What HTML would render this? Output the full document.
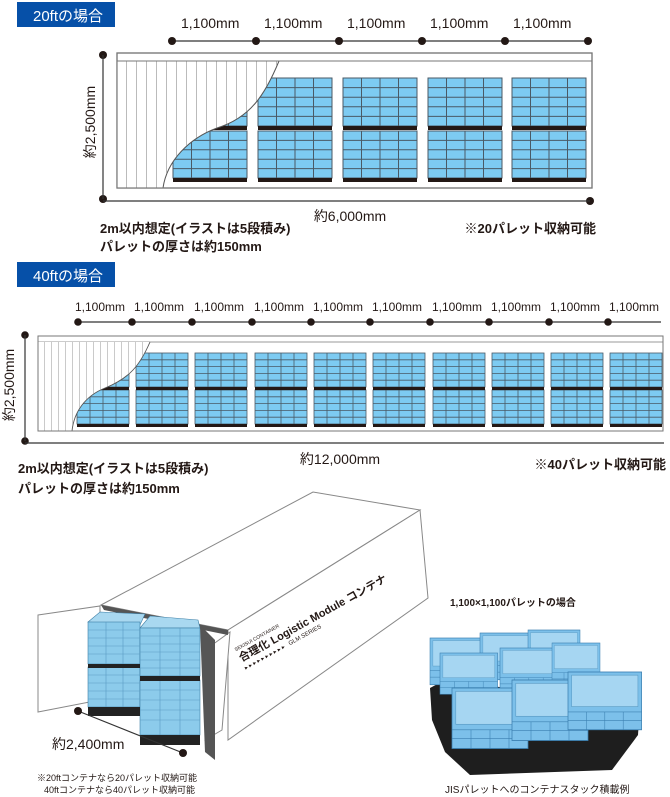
<!DOCTYPE html>
<html><head><meta charset="utf-8"><style>
html,body{margin:0;padding:0;background:#fff}
svg{display:block}
text{font-family:"Liberation Sans","Noto Sans CJK JP",sans-serif;fill:#231815}
</style></head><body>
<svg width="670" height="797" viewBox="0 0 670 797" xmlns="http://www.w3.org/2000/svg">
<defs>
<pattern id="h20" patternUnits="userSpaceOnUse" x="117" y="0" width="10" height="10"><rect width="10" height="10" fill="#fff"/><line x1="10" y1="0" x2="10" y2="10" stroke="#555" stroke-width="0.8"/></pattern>
<pattern id="h40" patternUnits="userSpaceOnUse" x="38" y="0" width="7" height="10"><rect width="7" height="10" fill="#fff"/><line x1="7" y1="0" x2="7" y2="10" stroke="#666" stroke-width="0.7"/></pattern>
<g id="u20">
<rect x="0" y="0" width="74" height="48" fill="#7dcbf2" stroke="#4a5a66" stroke-width="1"/>
<rect x="0" y="53" width="74" height="47" fill="#7dcbf2" stroke="#4a5a66" stroke-width="1"/>
<path d="M18.5,0V48M37,0V48M55.5,0V48M18.5,53V100M37,53V100M55.5,53V100M0,9.6H74M0,19.2H74M0,28.8H74M0,38.4H74M0,62.4H74M0,71.8H74M0,81.2H74M0,90.6H74" stroke="#4a5a66" stroke-width="1" fill="none"/>
<rect x="0" y="48" width="74" height="4" fill="#231815"/>
<rect x="0" y="100" width="74" height="4" fill="#231815"/>
</g>
<g id="u40">
<rect x="0" y="0" width="52" height="34" fill="#7dcbf2" stroke="#4a5a66" stroke-width="0.8"/>
<rect x="0" y="37" width="52" height="34" fill="#7dcbf2" stroke="#4a5a66" stroke-width="0.8"/>
<path d="M13,0V34M26,0V34M39,0V34M13,37V71M26,37V71M39,37V71M0,6.8H52M0,13.6H52M0,20.4H52M0,27.2H52M0,43.8H52M0,50.6H52M0,57.4H52M0,64.2H52" stroke="#4a5a66" stroke-width="0.8" fill="none"/>
<rect x="0" y="34" width="52" height="3" fill="#231815"/>
<rect x="0" y="71" width="52" height="3" fill="#231815"/>
</g>
<g id="box">
<rect x="0" y="0" width="80" height="55" fill="#7cc0ea" stroke="#3b7fb0" stroke-width="0.8"/>
<rect x="4" y="3" width="72" height="30" fill="#a6d6f2" stroke="#5a9bc4" stroke-width="0.6"/>
<path d="M0,38H80M0,46H80M20,38V55M40,38V55M60,38V55" stroke="#3b7fb0" stroke-width="0.6"/>
</g>
</defs>

<!-- 20ft -->
<rect x="17" y="2" width="98" height="25" fill="#0650a8"/>
<text x="33" y="21" font-size="15" style="fill:#fff">20ftの場合</text>
<g font-size="14">
<text x="181" y="28">1,100mm</text><text x="264" y="28">1,100mm</text><text x="347" y="28">1,100mm</text><text x="430" y="28">1,100mm</text><text x="513" y="28">1,100mm</text>
</g>
<line x1="172" y1="41" x2="588" y2="41" stroke="#333" stroke-width="1.2"/>
<g fill="#231815"><circle cx="172" cy="41" r="4"/><circle cx="256" cy="41" r="4"/><circle cx="339" cy="41" r="4"/><circle cx="422" cy="41" r="4"/><circle cx="505" cy="41" r="4"/><circle cx="588" cy="41" r="4"/>
<circle cx="103" cy="55" r="4"/><circle cx="103" cy="199" r="4"/><circle cx="590" cy="201" r="4"/></g>
<line x1="103" y1="55" x2="103" y2="199" stroke="#333" stroke-width="1.2"/>
<line x1="103" y1="201" x2="590" y2="201" stroke="#333" stroke-width="1.2"/>
<rect x="117" y="53" width="475" height="135" fill="#fff" stroke="#777" stroke-width="1.2"/>
<line x1="117" y1="61" x2="592" y2="61" stroke="#777" stroke-width="1"/>
<use href="#u20" x="173" y="78"/><use href="#u20" x="258" y="78"/><use href="#u20" x="343" y="78"/><use href="#u20" x="428" y="78"/><use href="#u20" x="512" y="78"/>
<path d="M117,61 L279,61 C265,95 250,118 217,128 C190,138 167,160 163,188 L117,188 Z" fill="url(#h20)"/>
<path d="M279,61 C265,95 250,118 217,128 C190,138 167,160 163,188" fill="none" stroke="#555" stroke-width="1"/>
<rect x="117" y="53" width="475" height="135" fill="none" stroke="#777" stroke-width="1.2"/>
<line x1="117" y1="61" x2="279" y2="61" stroke="#777" stroke-width="1"/>
<text x="95" y="122" font-size="14" transform="rotate(-90 95 122)" text-anchor="middle">約2,500mm</text>
<text x="350" y="221" font-size="14" text-anchor="middle">約6,000mm</text>
<text x="100" y="233" font-size="13" font-weight="bold">2m以内想定(イラストは5段積み)</text>
<text x="100" y="251" font-size="13" font-weight="bold">パレットの厚さは約150mm</text>
<text x="596" y="233" font-size="13" font-weight="bold" text-anchor="end">※20パレット収納可能</text>

<!-- 40ft -->
<rect x="17" y="262" width="98" height="25" fill="#0650a8"/>
<text x="33" y="281" font-size="15" style="fill:#fff">40ftの場合</text>
<g font-size="12">
<text x="75" y="311">1,100mm</text><text x="134" y="311">1,100mm</text><text x="194" y="311">1,100mm</text><text x="254" y="311">1,100mm</text><text x="313" y="311">1,100mm</text><text x="372" y="311">1,100mm</text><text x="432" y="311">1,100mm</text><text x="491" y="311">1,100mm</text><text x="550" y="311">1,100mm</text><text x="609" y="311">1,100mm</text>
</g>
<line x1="78" y1="322" x2="661" y2="322" stroke="#333" stroke-width="1.2"/>
<g fill="#231815"><circle cx="78" cy="322" r="3.8"/><circle cx="132" cy="322" r="3.8"/><circle cx="192" cy="322" r="3.8"/><circle cx="252" cy="322" r="3.8"/><circle cx="311" cy="322" r="3.8"/><circle cx="370" cy="322" r="3.8"/><circle cx="430" cy="322" r="3.8"/><circle cx="489" cy="322" r="3.8"/><circle cx="549" cy="322" r="3.8"/><circle cx="608" cy="322" r="3.8"/>
<circle cx="25" cy="335" r="3.8"/><circle cx="25" cy="441" r="3.8"/></g>
<line x1="25" y1="335" x2="25" y2="441" stroke="#333" stroke-width="1.2"/>
<line x1="25" y1="443" x2="664" y2="443" stroke="#333" stroke-width="1.2"/>
<rect x="38" y="336" width="625" height="95" fill="#fff" stroke="#777" stroke-width="1"/>
<line x1="38" y1="342" x2="663" y2="342" stroke="#777" stroke-width="0.8"/>
<use href="#u40" x="77" y="353"/><use href="#u40" x="136" y="353"/><use href="#u40" x="195" y="353"/><use href="#u40" x="255" y="353"/><use href="#u40" x="314" y="353"/><use href="#u40" x="373" y="353"/><use href="#u40" x="433" y="353"/><use href="#u40" x="492" y="353"/><use href="#u40" x="551" y="353"/><use href="#u40" x="610" y="353"/>
<path d="M38,342 L150,342 C140,365 130,378 105,388 C85,396 74,412 72,431 L38,431 Z" fill="url(#h40)"/>
<path d="M150,342 C140,365 130,378 105,388 C85,396 74,412 72,431" fill="none" stroke="#555" stroke-width="0.9"/>
<rect x="38" y="336" width="625" height="95" fill="none" stroke="#777" stroke-width="1"/>
<text x="14" y="385" font-size="14" transform="rotate(-90 14 385)" text-anchor="middle">約2,500mm</text>
<text x="340" y="464" font-size="14" text-anchor="middle">約12,000mm</text>
<text x="18" y="473" font-size="13" font-weight="bold">2m以内想定(イラストは5段積み)</text>
<text x="18" y="493" font-size="13" font-weight="bold">パレットの厚さは約150mm</text>
<text x="666" y="469" font-size="13" font-weight="bold" text-anchor="end">※40パレット収納可能</text>

<!-- 3D container -->
<g stroke="#888" stroke-width="1" fill="#fff">
<polygon points="101,605 313,492 420,510 228,630"/>
<polygon points="228,630 420,510 428,598 228,740"/>
<polygon points="38,615 100,606 100,700 38,712"/>
<polygon points="205,740 222,730 230,632 212,645"/>
</g>
<polygon points="101,605 228,630 228,635 104,610" fill="#555"/>
<!-- stacks -->
<g stroke="#3d7fa6" stroke-width="0.6">
<polygon points="88,622 100,612 145,614 140,625" fill="#a9d8f0"/>
<rect x="88" y="622" width="52" height="42" fill="#8ccbeb"/>
<rect x="88" y="667" width="52" height="40" fill="#8ccbeb"/>
<polygon points="140,628 150,616 198,620 200,628" fill="#a9d8f0"/>
<rect x="140" y="628" width="60" height="48" fill="#8ccbeb"/>
<rect x="140" y="680" width="60" height="55" fill="#8ccbeb"/>
</g>
<g stroke="#5a9bc4" stroke-width="0.6" fill="none">
<path d="M88,630H140M88,638H140M88,646H140M88,654H140M88,675H140M88,683H140M88,691H140M88,699H140M140,636H200M140,644H200M140,652H200M140,660H200M140,668H200M140,690H200M140,700H200M140,710H200M140,720H200M106,622V707M123,622V707M160,628V735M180,628V735"/>
</g>
<rect x="88" y="664" width="52" height="4" fill="#222"/>
<rect x="88" y="707" width="52" height="9" fill="#222"/>
<rect x="140" y="676" width="60" height="5" fill="#222"/>
<rect x="140" y="735" width="60" height="10" fill="#222"/>
<polygon points="200,625 215,640 215,760 205,752" fill="#555"/>
<g transform="rotate(-29 250 640)">
<text x="232" y="643" font-size="5">SEKISUI CONTAINER</text>
<text x="232" y="655" font-size="11" font-weight="bold">合理化 Logistic Module コンテナ</text>
<text x="232" y="664" font-size="6">▸ ▸ ▸ ▸ ▸ ▸ ▸ ▸ ▸ ▸ &#160;&#160;GLM SERIES</text>
</g>
<line x1="78" y1="711" x2="183" y2="753" stroke="#333" stroke-width="1.2"/>
<circle cx="78" cy="711" r="4" fill="#231815"/><circle cx="183" cy="753" r="4" fill="#231815"/>
<text x="52" y="749" font-size="14">約2,400mm</text>
<text x="37" y="781" font-size="9">※20ftコンテナなら20パレット収納可能</text>
<text x="44" y="793" font-size="9">40ftコンテナなら40パレット収納可能</text>

<!-- photo -->
<text x="450" y="606" font-size="10" font-weight="bold">1,100×1,100パレットの場合</text>
<polygon points="430,688 445,680 640,705 638,735 612,770 470,775 445,752 432,720" fill="#1e1e1e"/>
<use href="#box" transform="translate(430,638) scale(0.72,0.85)"/>
<use href="#box" transform="translate(480,633) scale(0.72,0.85)"/>
<use href="#box" transform="translate(528,630) scale(0.65,0.85)"/>
<use href="#box" transform="translate(440,653) scale(0.72,0.75)"/>
<use href="#box" transform="translate(500,648) scale(0.72,0.78)"/>
<use href="#box" transform="translate(552,643) scale(0.6,0.78)"/>
<use href="#box" transform="translate(452,688) scale(0.95,1.1)"/>
<use href="#box" transform="translate(512,680) scale(0.95,1.1)"/>
<use href="#box" transform="translate(568,672) scale(0.92,1.05)"/>
<text x="445" y="793" font-size="10">JISパレットへのコンテナスタック積載例</text>
</svg>
</body></html>
